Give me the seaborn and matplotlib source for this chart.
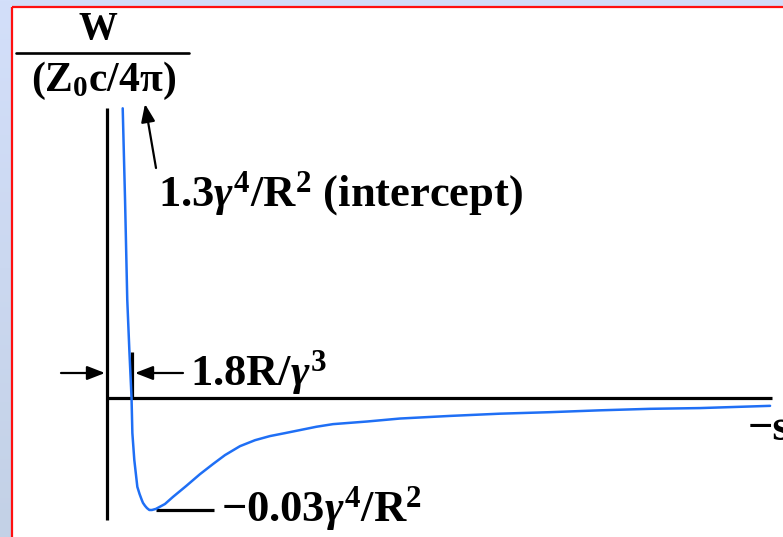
import numpy as np
import pandas as pd
import matplotlib
matplotlib.use("Agg")
import matplotlib.pyplot as plt
from matplotlib.patches import Rectangle
import seaborn as sns

# Wake potential W(s) of a short bunch: s in units of R/gamma^3, W in units of gamma^4/R^2
s_vals = [1.16, 1.33, 1.49, 1.64, 1.80, 1.86, 2.00, 2.22, 2.38, 2.54, 2.63, 2.78,
          2.92, 3.09, 3.28, 3.57, 4.22, 4.80, 5.75, 6.76, 7.70, 8.57, 9.66, 10.75,
          11.83, 12.93, 14.0, 15.2, 16.4, 18.86, 21.25, 24.88, 28.5, 32.1, 35.74,
          39.37, 43.0, 48.07]
w_vals = [0.0776, 0.0530, 0.0263, 0.0129, 0.0, -0.0094, -0.0166, -0.0238, -0.0257,
          -0.0273, -0.0281, -0.0289, -0.0295, -0.0300, -0.0300, -0.0297, -0.0284,
          -0.0265, -0.0236, -0.0204, -0.0177, -0.0153, -0.0129, -0.0113, -0.0102,
          -0.0094, -0.0086, -0.0077, -0.0070, -0.0063, -0.0055, -0.0048, -0.0042,
          -0.0038, -0.0033, -0.0029, -0.0027, -0.0021]

zero_crossing = 1.8      # R/gamma^3
intercept = 1.3          # gamma^4/R^2 (off scale)
w_minimum = -0.03        # gamma^4/R^2

ylabel_top = "W"
ylabel_bottom = r"$\mathbf{(Z_0c/4\pi)}$"
xlabel = "\u2212s"

df = pd.DataFrame({"s": s_vals, "W": w_vals})

sns.set_theme(style="white")
plt.rcParams["font.family"] = ["Liberation Serif", "DejaVu Serif"]
plt.rcParams["mathtext.fontset"] = "custom"
plt.rcParams["mathtext.rm"] = "Liberation Serif:bold"
plt.rcParams["mathtext.bf"] = "Liberation Serif:bold"
plt.rcParams["mathtext.it"] = "Liberation Serif:bold:italic"

W_PX, H_PX = 783, 537
fig = plt.figure(figsize=(W_PX / 100, H_PX / 100), dpi=100)
fig.patch.set_facecolor("#d2ddf8")

# pixel-space overlay for frame and labels
ov = fig.add_axes([0, 0, 1, 1], zorder=0)
ov.set_xlim(0, W_PX)
ov.set_ylim(H_PX, 0)
ov.axis("off")
ov.patch.set_alpha(0)
grad = np.linspace(0, 1, 256).reshape(-1, 1)
ov.imshow(grad, extent=(0, 12, H_PX, 0), aspect="auto",
          cmap=matplotlib.colors.LinearSegmentedColormap.from_list(
              "strip", ["#d3dffa", "#c3d1e6"]), zorder=0)
ov.add_patch(Rectangle((12, 7), W_PX, H_PX, facecolor="white", edgecolor="none", zorder=1))
ov.plot([12, W_PX], [7, 7], color="#ff1010", lw=1.6, zorder=2, solid_capstyle="butt")
ov.plot([12, 12], [7, H_PX], color="#ff1010", lw=1.6, zorder=2, solid_capstyle="butt")

# data axes
ax = fig.add_axes([0, 0, 1, 1], zorder=1)
ax.patch.set_alpha(0)
x_px0, x_scale = 106.7, 13.8
y_px0, y_scale = 398.0, 3733.0
ax.set_xlim(-x_px0 / x_scale, (W_PX - x_px0) / x_scale)
ax.set_ylim((y_px0 - H_PX) / y_scale, y_px0 / y_scale)
for sp in ax.spines.values():
    sp.set_visible(False)
ax.set_xticks([])
ax.set_yticks([])

axis_kw = dict(color="black", lw=2.3, solid_capstyle="butt", zorder=2)
ax.plot([0, 48.2], [0, 0], **axis_kw)
ax.plot([0, 0], [-0.0327, 0.0777], **axis_kw)

sns.lineplot(data=df, x="s", y="W", ax=ax, color="#1f6ff5", lw=1.8,
             estimator=None, sort=False, zorder=3, legend=False)
ax.set_xlabel("")
ax.set_ylabel("")

# zero-crossing marker
ax.plot([zero_crossing, zero_crossing], [0, 0.0123], **axis_kw)

# minimum marker
i_min = int(np.argmin(w_vals))
s_min = s_vals[i_min]
ax.plot([s_min + 0.45, s_min + 4.65], [w_minimum, w_minimum], **axis_kw)

txt = dict(fontweight="bold", color="black", zorder=5)

ov.text(97.5, 29, ylabel_top, ha="center", va="center", fontsize=28, **txt)
ov.plot([16, 189], [53, 53], color="black", lw=1.9, zorder=5)
ov.text(103.5, 81, ylabel_bottom, ha="center", va="center", fontsize=30, **txt)

arrow = dict(arrowstyle="-|>,head_length=0.9,head_width=0.35", color="black", lw=1.6,
             shrinkA=0, shrinkB=0)
ov.annotate("", xy=(145, 104), xytext=(156, 168), arrowprops=arrow, zorder=5)
ov.text(158, 194, r"$\mathbf{%.1f}\gamma^{\mathbf{4}}\mathbf{/R^2}$ (intercept)" % intercept,
        ha="left", va="center", fontsize=32, **txt)

ov.annotate("", xy=(105, 373), xytext=(61, 373), arrowprops=arrow, zorder=5)
ov.annotate("", xy=(135, 373), xytext=(183, 373), arrowprops=arrow, zorder=5)
ov.text(190, 373, r"$\mathbf{%.1fR/}\gamma^{\mathbf{3}}$" % zero_crossing,
        ha="left", va="center", fontsize=32, **txt)

ov.text(221, 509, r"$\mathbf{%.2f}\gamma^{\mathbf{4}}\mathbf{/R^2}$" % w_minimum,
        ha="left", va="center", fontsize=32, **txt)

ov.text(748, 429, xlabel, ha="left", va="center", fontsize=32, **txt)

fig.savefig("out.png", dpi=100, facecolor=fig.get_facecolor())
